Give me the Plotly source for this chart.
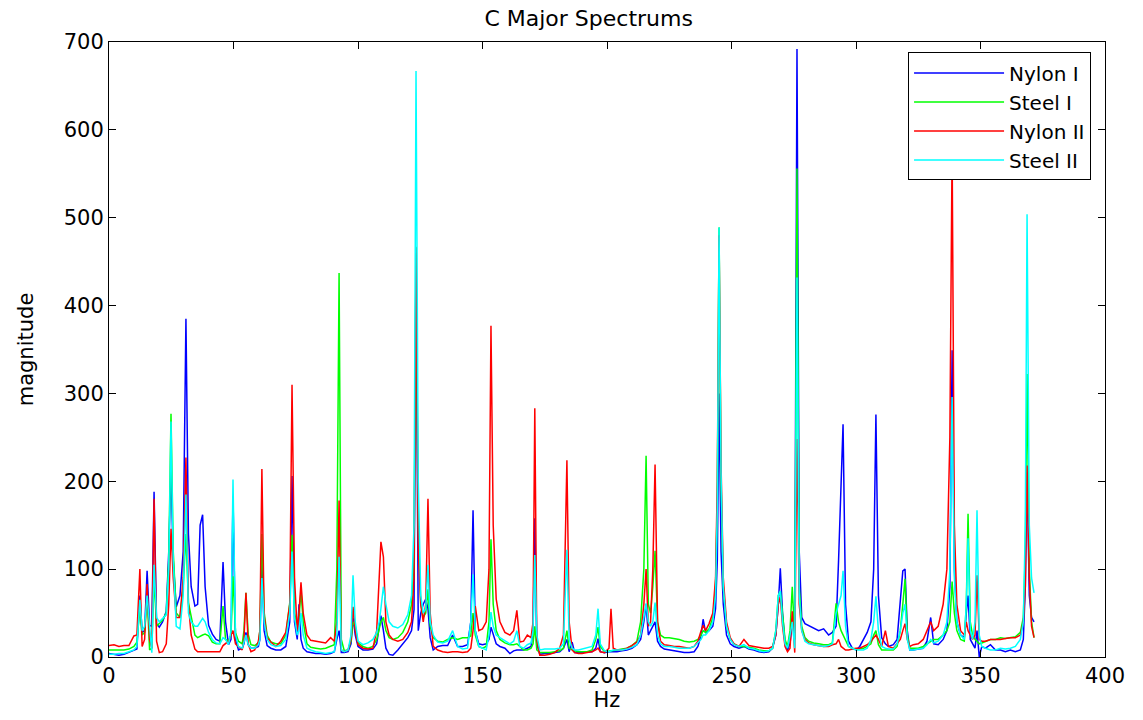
import plotly.graph_objects as go

hz = [0, 2, 4, 6, 8, 10, 11.2, 12.4, 13.3, 14.3,
      15.3, 16.3, 17.2, 18.1, 19.1, 20.2, 21.5, 23, 24, 24.9,
      25.8, 27, 28.5, 29.8, 30.9, 31.9, 33, 34.5, 35.6, 36.6,
      37.6, 38.6, 40, 41.5, 43, 44.5, 45.8, 46.8, 48, 49,
      49.8, 50.8, 52, 53.5, 54.2, 55, 55.9, 57, 58.5, 60,
      60.6, 61.4, 62.3, 63.5, 65, 67, 69, 71, 72.6, 73.5,
      74.5, 75.6, 76.3, 77.1, 78, 79.5, 81, 83, 85, 87,
      89, 90.5, 91.5, 92.4, 93.3, 94.5, 96, 97.2, 98, 98.9,
      100, 102, 104, 106, 107.5, 108.5, 109.2, 110.2, 111.2, 112.5,
      114, 116, 118, 120, 121.5, 122.5, 123.3, 124.2, 125.2, 126.2,
      127.2, 128.1, 129, 130.2, 132, 134, 136, 138, 140, 142,
      144, 145.3, 146.2, 147.1, 148.5, 150, 151.5, 152.6, 153.4, 154.3,
      155.5, 157, 159, 161, 162.5, 163.8, 165, 166.5, 168, 169.5,
      170.3, 171, 171.8, 173, 175, 177, 179, 181, 182.5, 183.9,
      184.8, 186, 187, 188.5, 190, 192, 194, 195.5, 196.4, 197.3,
      199, 200.8, 201.6, 202.5, 204, 206, 208, 210, 212, 213.5,
      214.8, 215.7, 216.6, 217.5, 218.4, 219.3, 220.3, 221.5, 223, 225,
      227, 229, 231, 233, 235, 236.5, 237.8, 238.6, 239.6, 241,
      242.5, 243.6, 244.3, 245, 245.8, 246.7, 248, 249.5, 251, 253,
      255, 257, 259, 261, 263, 265, 266.5, 267.8, 268.8, 269.6,
      270.5, 271.5, 272.5, 273.5, 274.4, 275.4, 276.3, 277.2, 278.2, 279.5,
      281, 283, 285, 287, 289, 290.5, 292, 293, 294, 294.8,
      295.8, 297, 298.5, 300, 301.5, 303, 304.5, 306, 307.1, 308,
      309, 310.3, 311.8, 313, 315, 316.5, 317.8, 318.8, 319.7, 320.6,
      321.6, 323, 325, 327, 328.5, 330, 331.2, 333, 335, 336.5,
      337.7, 338.6, 339.5, 340.5, 342, 343.5, 344.3, 345, 345.9, 346.8,
      347.8, 348.6, 349.5, 350.5, 352, 354, 356, 358, 360, 362,
      364, 366, 367.2, 368, 368.7, 369.6, 370.5, 371.5]

nylon_1 = [4, 3, 2, 3, 5, 7, 9, 70, 28, 30,
           98, 36, 35, 188, 38, 34, 40, 52, 120, 215,
           110, 57, 70, 120, 385, 140, 80, 58, 60, 150,
           162, 80, 36, 26, 20, 18, 108, 40, 14, 20,
           183, 20, 8, 10, 15, 28, 14, 10, 10, 12,
           20, 108, 30, 13, 10, 8, 8, 12, 40, 206,
           40, 20, 60, 20, 10, 6, 5, 4, 4, 3,
           4, 6, 20, 30, 5, 5, 6, 15, 45, 25,
           12, 8, 8, 9, 15, 35, 47, 30, 10, 3,
           2, 8, 15, 22, 30, 54, 460, 30, 50, 60,
           66, 55, 22, 8, 12, 13, 13, 25, 12, 12,
           14, 40, 167, 30, 15, 14, 15, 20, 34, 25,
           15, 12, 10, 4, 7, 8, 8, 8, 10, 12,
           30, 158, 15, 3, 4, 4, 5, 6, 10, 20,
           6, 17, 5, 5, 5, 6, 6, 10, 21, 6,
           5, 6, 6, 6, 6, 7, 8, 10, 14, 20,
           40, 60, 25, 30, 35, 40, 18, 12, 9, 8,
           7, 6, 5, 5, 6, 12, 25, 43, 28, 30,
           35, 55, 110, 300, 120, 60, 25, 15, 12, 10,
           12, 9, 8, 6, 5, 6, 10, 25, 60, 101,
           50, 15, 8, 15, 40, 30, 692, 120, 45, 38,
           36, 33, 30, 32, 25, 28, 35, 110, 200, 265,
           60, 18, 10, 8, 12, 20, 28, 40, 100, 276,
           70, 22, 15, 12, 14, 20, 60, 98, 100, 30,
           8, 8, 9, 10, 18, 45, 15, 14, 20, 30,
           80, 349, 100, 40, 25, 22, 50, 70, 20, 15,
           10, 30, 0, 12, 10, 14, 8, 8, 6, 8,
           6, 8, 20, 80, 210, 70, 45, 40]

steel_1 = [8, 8, 8, 8, 9, 12, 17, 55, 25, 28,
           70, 8, 10, 90, 35, 38, 42, 50, 110, 277,
           120, 50, 45, 80, 140, 62, 45, 25, 22, 24,
           25, 26, 24, 17, 15, 15, 58, 20, 18, 25,
           92, 28, 18, 15, 30, 73, 26, 14, 13, 16,
           30, 140, 51, 25, 17, 15, 15, 25, 62, 139,
           50, 36, 45, 75, 40, 15, 11, 10, 9, 10,
           12, 14, 100, 437, 20, 7, 8, 18, 40, 35,
           16, 12, 10, 12, 20, 30, 40, 45, 30, 22,
           20, 22, 28, 40, 60, 110, 467, 150, 60, 45,
           50, 77, 35, 22, 18, 17, 20, 22, 20, 22,
           22, 24, 50, 25, 12, 10, 12, 40, 134, 60,
           30, 20, 16, 14, 14, 15, 12, 8, 8, 10,
           15, 35, 8, 5, 5, 5, 6, 7, 10, 30,
           10, 8, 7, 6, 6, 6, 8, 20, 34, 12,
           6, 7, 7, 8, 8, 9, 10, 13, 18, 40,
           100, 229, 60, 50, 80, 121, 40, 25, 22, 22,
           21, 20, 18, 17, 18, 20, 25, 30, 28, 32,
           45, 80, 180, 489, 200, 80, 35, 20, 15, 12,
           12, 11, 10, 8, 7, 7, 10, 30, 70, 75,
           45, 20, 12, 30, 80, 20, 556, 80, 35, 22,
           18, 16, 15, 14, 14, 16, 61, 40, 30, 25,
           18, 12, 10, 9, 9, 10, 12, 15, 25, 30,
           14, 8, 8, 8, 8, 12, 30, 60, 89, 25,
           10, 10, 10, 12, 15, 18, 20, 20, 25, 30,
           40, 86, 50, 30, 20, 18, 60, 163, 40, 25,
           20, 18, 15, 16, 18, 20, 20, 22, 21, 22,
           23, 28, 45, 120, 322, 100, 40, 22]

nylon_2 = [13, 14, 12, 13, 13, 24, 25, 100, 12, 20,
           83, 20, 10, 180, 18, 5, 6, 15, 60, 146,
           90, 45, 45, 90, 227, 60, 25, 9, 6, 6,
           6, 6, 6, 6, 6, 6, 13, 15, 18, 25,
           30, 15, 12, 8, 20, 73, 15, 6, 8, 18,
           30, 214, 47, 22, 17, 12, 18, 28, 60, 310,
           90, 30, 50, 85, 50, 25, 19, 18, 17, 16,
           22, 18, 40, 178, 8, 6, 8, 20, 57, 30,
           14, 10, 9, 10, 30, 95, 131, 114, 40, 25,
           20, 18, 20, 28, 40, 90, 466, 120, 60, 40,
           60, 180, 50, 12, 8, 6, 5, 6, 6, 5,
           6, 10, 30, 58, 30, 32, 40, 100, 377, 150,
           66, 40, 28, 25, 30, 53, 17, 18, 25, 22,
           40, 283, 20, 2, 2, 3, 5, 10, 25, 224,
           40, 8, 5, 4, 4, 5, 6, 8, 10, 6,
           5, 10, 55, 10, 8, 8, 10, 13, 17, 25,
           60, 100, 35, 40, 100, 219, 40, 18, 14, 13,
           12, 12, 11, 10, 12, 18, 30, 36, 30, 38,
           50, 90, 200, 480, 220, 90, 40, 22, 15, 12,
           20, 13, 12, 11, 10, 10, 12, 25, 60, 68,
           35, 12, 6, 10, 52, 5, 248, 60, 30, 20,
           16, 14, 13, 12, 12, 14, 15, 20, 12, 10,
           8, 8, 9, 10, 10, 12, 14, 18, 22, 25,
           20, 12, 30, 12, 10, 15, 20, 30, 38, 20,
           12, 14, 15, 20, 30, 40, 30, 35, 60, 100,
           250, 580, 150, 60, 30, 25, 40, 30, 25, 20,
           25, 93, 20, 18, 18, 20, 20, 20, 21, 22,
           22, 25, 40, 80, 218, 90, 35, 22]

steel_2 = [3, 3, 4, 4, 6, 8, 12, 65, 30, 35,
           70, 30, 5, 105, 45, 40, 44, 48, 100, 268,
           110, 35, 32, 70, 185, 50, 40, 35, 35, 40,
           44, 40, 28, 20, 16, 15, 22, 20, 14, 30,
           202, 25, 12, 10, 18, 25, 14, 10, 10, 14,
           20, 90, 40, 20, 14, 12, 13, 20, 50, 120,
           45, 25, 30, 50, 25, 10, 8, 6, 5, 4,
           5, 6, 25, 114, 8, 6, 8, 25, 93, 40,
           18, 14, 16, 20, 28, 40, 55, 80, 60, 40,
           35, 33, 37, 48, 70, 150, 667, 200, 70, 50,
           55, 105, 40, 25, 17, 16, 18, 30, 12, 9,
           10, 40, 94, 30, 12, 10, 8, 25, 51, 35,
           25, 22, 18, 15, 18, 30, 12, 10, 14, 16,
           30, 116, 25, 8, 9, 9, 9, 10, 15, 122,
           20, 10, 8, 8, 9, 10, 12, 25, 55, 15,
           7, 6, 7, 8, 8, 8, 9, 11, 14, 25,
           45, 61, 40, 35, 40, 62, 25, 15, 12, 12,
           11, 10, 10, 10, 12, 16, 20, 25, 25, 30,
           40, 70, 170, 489, 210, 80, 35, 20, 14, 12,
           14, 10, 9, 7, 6, 7, 10, 30, 70, 75,
           40, 15, 10, 25, 40, 10, 432, 70, 30, 18,
           15, 14, 13, 12, 13, 15, 50, 61, 70, 98,
           35, 12, 10, 8, 8, 8, 10, 20, 40, 69,
           30, 12, 10, 9, 9, 15, 30, 50, 60, 20,
           8, 8, 9, 10, 14, 20, 16, 18, 25, 40,
           100, 296, 90, 40, 25, 20, 60, 135, 30, 20,
           40, 167, 25, 12, 10, 8, 8, 10, 9, 10,
           12, 20, 40, 150, 504, 150, 90, 73]

series_names = ["Nylon I", "Steel I", "Nylon II", "Steel II"]
series_colors = ["#0000FF", "#00FF00", "#FF0000", "#00FFFF"]
series_values = [nylon_1, steel_1, nylon_2, steel_2]

x_ticks = [0, 50, 100, 150, 200, 250, 300, 350, 400]
y_ticks = [0, 100, 200, 300, 400, 500, 600, 700]

for v in series_values:
    assert len(v) == len(hz), (len(v), len(hz))

FONT = "DejaVu Sans"

fig = go.Figure()
for name, color, vals in zip(series_names, series_colors, series_values):
    fig.add_trace(go.Scatter(x=hz, y=vals, mode="lines", name=name,
                             line=dict(color=color, width=1.5)))

axis_common = dict(showgrid=False, zeroline=False, showline=True, linecolor="black",
                   linewidth=1, mirror="ticks", ticks="inside", ticklen=7,
                   tickcolor="black", tickfont=dict(family=FONT, size=21, color="black"))

fig.update_layout(
    width=1143, height=720,
    margin=dict(l=109, r=38, t=42, b=58),
    paper_bgcolor="white", plot_bgcolor="white",
    title=dict(text="C Major Spectrums", x=0.515, xanchor="center", y=0.975, yanchor="middle",
               font=dict(family=FONT, size=22, color="black")),
    xaxis=dict(range=[0, 400], tickvals=x_ticks,
               title=dict(text="Hz", font=dict(family=FONT, size=21, color="black"), standoff=5),
               **axis_common),
    yaxis=dict(range=[0, 700], tickvals=y_ticks,
               title=dict(text="magnitude", font=dict(family=FONT, size=21, color="black"), standoff=24),
               **axis_common),
    legend=dict(x=0.986, xanchor="right", y=0.983, yanchor="top",
                bgcolor="white", bordercolor="black", borderwidth=1,
                font=dict(family=FONT, size=20, color="black"),
                itemwidth=90, tracegroupgap=0),
    showlegend=True,
)

fig.write_html("out.html")
